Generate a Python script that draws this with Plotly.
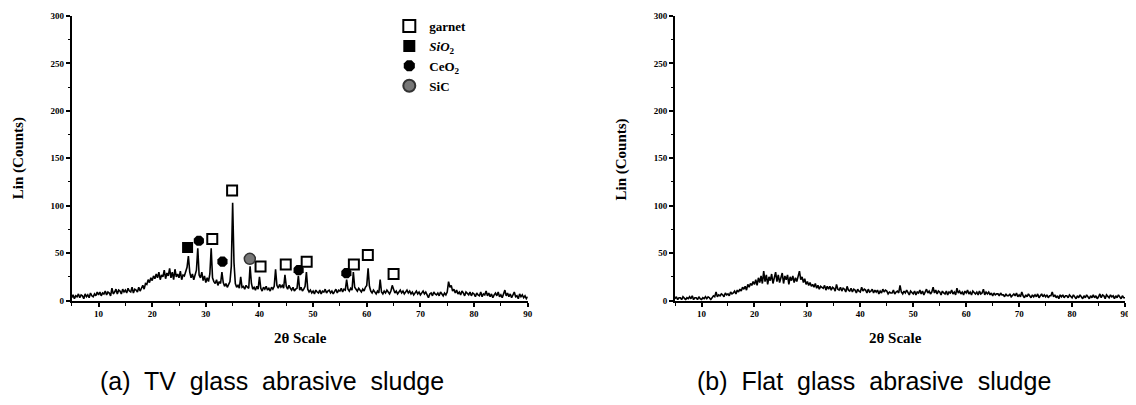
import plotly.graph_objects as go

# 2-theta grid (0.25 deg step, 5..90)
two_theta = [5 + 0.25 * i for i in range(341)]

# (a) TV glass abrasive sludge - counts
tv_counts = [
    3, 6, 2, 5,   4, 7, 3, 6,   5, 2, 7, 4,   6, 3, 8, 5,   4, 7, 5, 9,
    6, 9, 5, 8,   7, 10, 6, 9,  8, 5, 13, 7,  9, 12, 7, 11, 10, 7, 12, 9,
    11, 8, 13, 10, 9, 14, 8, 12, 11, 9, 14, 10, 13, 16, 12, 18, 17, 22, 19, 24,
    21, 26, 23, 28, 24, 30, 22, 27, 25, 32, 23, 29, 26, 34, 24, 30, 22, 33, 25, 28,
    24, 31, 22, 27, 26, 30, 35, 47, 30, 24, 28, 22, 26, 32, 55, 27, 24, 30, 21, 26,
    19, 24, 20, 28, 55, 24, 20, 18, 22, 16, 20, 18, 30, 19, 15, 18, 14, 17, 20, 36,
    103, 40, 18, 14, 16, 13, 25, 14, 15, 12, 16, 14, 13, 36, 18, 12, 14, 11, 15, 12,
    25, 13, 10, 14, 12, 15, 11, 13, 10, 14, 12, 15, 33, 16, 13, 17, 14, 16, 13, 27,
    15, 12, 16, 13, 11, 14, 10, 12, 13, 26, 11, 14, 10, 12, 15, 30, 12, 9, 11, 8,
    10, 7, 11, 9,  8, 11, 7, 10,  9, 12, 8, 10, 11, 8, 10, 7,  9, 12, 8, 11,
    10, 13, 9, 12, 11, 22, 12, 10, 13, 11, 30, 14, 12, 10, 13, 11, 9, 12, 10, 14,
    16, 34, 15, 10, 8, 11, 9, 7,  10, 8, 22, 9,  7, 10, 8, 11,  9, 7, 10, 16,
    12, 8, 10, 7,  9, 11, 8, 10,  7, 9, 11, 8,  10, 7, 9, 6,   8, 10, 7, 9,
    6, 8, 10, 7,   9, 6, 3, 7,    8, 5, 9, 7,   6, 8, 5, 9,    7, 5, 8, 6,
    9, 20, 14, 16, 10, 12, 8, 11, 7, 9, 6, 10,  8, 5, 9, 7,    6, 9, 5, 8,
    7, 4, 8, 6,    5, 9, 4, 7,    6, 10, 5, 8,  4, 7, 3, 6,    8, 5, 9, 4,
    6, 3, 7, 11,   5, 8, 4, 7,    3, 6, 9, 4,   5, 2, 7, 4,    6, 3, 5, 2,
    4,
]

# (b) Flat glass abrasive sludge - counts
flat_counts = [
    2, 4, 1, 3,   3, 1, 4, 2,   1, 3, 2, 4,   2, 5, 1, 3,   3, 1, 4, 2,
    1, 3, 2, 4,   2, 4, 3, 1,   3, 5, 4, 9,   4, 6, 5, 7,   6, 4, 8, 6,
    7, 5, 9, 7,   8, 10, 7, 11, 9, 12, 10, 14, 12, 15, 11, 17, 14, 18, 16, 20,
    17, 22, 16, 24, 19, 26, 18, 31, 20, 27, 17, 25, 21, 28, 18, 26, 30, 20, 27, 19,
    24, 29, 18, 26, 22, 27, 17, 25, 21, 26, 19, 24, 20, 27, 31, 22, 25, 19, 23, 17,
    20, 16, 19, 15, 17, 14, 18, 13, 16, 12, 15, 14, 13, 16, 11, 15, 12, 15, 11, 14,
    13, 10, 17, 12, 11, 14, 10, 13, 12, 9, 15, 11, 10, 13, 9, 12, 11, 8, 12, 10,
    9, 14, 10, 12, 11, 8, 12, 9,  10, 12, 8, 11, 9, 11, 7, 10,  8, 12, 9, 11,
    10, 7, 9, 8,   8, 11, 7, 9,   10, 8, 16, 9, 7, 10, 8, 11,   9, 6, 10, 8,
    7, 10, 6, 9,   8, 11, 7, 10,  6, 9, 12, 8,  10, 7, 9, 14,   8, 11, 7, 10,
    9, 6, 10, 8,   7, 10, 6, 9,   8, 11, 7, 9,  6, 13, 8, 10,   7, 9, 6, 10,
    8, 11, 7, 9,   6, 10, 8, 7,   9, 6, 10, 7,  8, 12, 6, 9,    7, 9, 6, 8,
    5, 8, 6, 7,    7, 5, 8, 6,    6, 4, 7, 5,   5, 7, 4, 6,    7, 5, 8, 4,
    6, 4, 9, 5,    3, 6, 4, 7,    5, 3, 6, 4,   6, 4, 7, 3,    5, 7, 4, 6,
    4, 6, 3, 5,    5, 9, 4, 6,    3, 5, 2, 6,   4, 6, 3, 5,    5, 3, 6, 4,
    3, 6, 4, 2,    5, 3, 6, 4,    2, 5, 3, 6,   4, 2, 5, 3,    6, 3, 5, 2,
    4, 7, 3, 6,    5, 2, 6, 4,    3, 6, 4, 5,   2, 5, 3, 6,    4, 2, 5, 3,
    3,
]

# Phase identification markers (a)
garnet_x = [31.2, 34.9, 40.2, 44.9, 48.8, 57.6, 60.2, 65.0]
garnet_y = [65, 116, 36, 38, 41, 38, 48, 28]
sio2_x = [26.6]
sio2_y = [56]
ceo2_x = [28.7, 33.1, 47.3, 56.2]
ceo2_y = [63, 41, 32, 29]
sic_x = [38.2]
sic_y = [44]

x_ticks = [10, 20, 30, 40, 50, 60, 70, 80, 90]
y_ticks = [0, 50, 100, 150, 200, 250, 300]

SERIF = "Liberation Serif"
PAGE_W, PAGE_H = 1136, 405
OFF = 8  # default body margin of the html page
W, H = PAGE_W - OFF, PAGE_H - OFF


def px(xp):
    return (xp - OFF) / W


def py(yp):
    return 1 - (yp - OFF) / H


fig = go.Figure()

fig.add_trace(go.Scatter(x=two_theta, y=tv_counts, mode="lines",
                         line=dict(color="black", width=1.6), showlegend=False,
                         xaxis="x", yaxis="y"))
fig.add_trace(go.Scatter(x=two_theta, y=flat_counts, mode="lines",
                         line=dict(color="black", width=1.6), showlegend=False,
                         xaxis="x2", yaxis="y2"))

fig.add_trace(go.Scatter(x=garnet_x, y=garnet_y, mode="markers", name="garnet",
                         marker=dict(symbol="square-open", size=10, color="black",
                                     line=dict(width=2, color="black")),
                         xaxis="x", yaxis="y"))
fig.add_trace(go.Scatter(x=sio2_x, y=sio2_y, mode="markers", name="<i>SiO</i><sub>2</sub>",
                         marker=dict(symbol="square", size=11, color="black"),
                         xaxis="x", yaxis="y"))
fig.add_trace(go.Scatter(x=ceo2_x, y=ceo2_y, mode="markers", name="CeO<sub>2</sub>",
                         marker=dict(symbol="octagon", size=11, color="black"),
                         xaxis="x", yaxis="y"))
fig.add_trace(go.Scatter(x=sic_x, y=sic_y, mode="markers", name="SiC",
                         marker=dict(symbol="circle", size=11, color="#777777",
                                     line=dict(width=1.5, color="#333333")),
                         xaxis="x", yaxis="y"))

tickfont = dict(family=SERIF, size=9, color="black", weight="bold")


def xaxis_cfg(domain):
    return dict(domain=domain, range=[5, 90], showline=True, linecolor="black",
                linewidth=2, ticks="outside", ticklen=4, tickwidth=1.5,
                tickcolor="black", tickvals=x_ticks, tickfont=tickfont,
                showgrid=False, zeroline=False, ticklabeloverflow="allow",
                minor=dict(dtick=5, tick0=5, ticks="outside", ticklen=3,
                           tickwidth=1, tickcolor="black"))


def yaxis_cfg(domain, anchor):
    return dict(domain=domain, range=[0, 300], anchor=anchor, showline=True,
                linecolor="black", linewidth=2, ticks="outside", ticklen=4,
                tickwidth=1.5, tickcolor="black", tickvals=y_ticks,
                tickfont=tickfont, showgrid=False, zeroline=False,
                ticklabeloverflow="allow",
                minor=dict(dtick=25, ticks="outside", ticklen=2, tickwidth=1,
                           tickcolor="black"))


yd = [py(303), py(11)]
fig.update_layout(
    width=W, height=H, autosize=False,
    margin=dict(l=0, r=0, t=0, b=0),
    paper_bgcolor="white", plot_bgcolor="white",
    xaxis=dict(xaxis_cfg([px(72), px(530)]), anchor="y"),
    yaxis=yaxis_cfg(yd, "x"),
    xaxis2=dict(xaxis_cfg([px(678), px(1130)]), anchor="y2"),
    yaxis2=yaxis_cfg(yd, "x2"),
    legend=dict(x=px(391), y=py(6), xanchor="left", yanchor="top",
                bgcolor="rgba(0,0,0,0)", tracegroupgap=0,
                font=dict(family=SERIF, size=13, color="black", weight="bold"),
                itemsizing="constant"),
)


def ann(text, xp, yp, size, family=SERIF, angle=0, weight="bold"):
    fig.add_annotation(text=text, x=px(xp), y=py(yp), xref="paper", yref="paper",
                       showarrow=False, textangle=angle, xanchor="center", yanchor="middle",
                       font=dict(family=family, size=size, color="black", weight=weight))


SP = "\u00a0 "
ann("Lin (Counts)", 18, 157, 15, angle=-90)
ann("Lin (Counts)", 624, 158, 15, angle=-90)
ann("2θ Scale", 302, 341, 15)
ann("2θ Scale", 899, 341, 15)
ann(SP.join(["(a)", "TV", "glass", "abrasive", "sludge"]), 273, 385, 25,
    family="Liberation Sans", weight="normal")
ann(SP.join(["(b)", "Flat", "glass", "abrasive", "sludge"]), 878, 385, 25,
    family="Liberation Sans", weight="normal")

fig.write_html("out.html")
